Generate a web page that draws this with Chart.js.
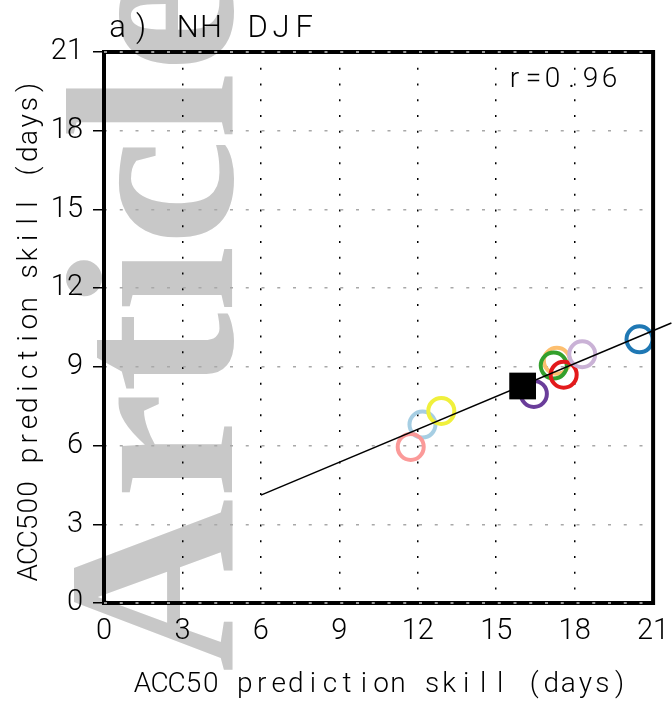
<!DOCTYPE html>
<html>
<head>
<meta charset="utf-8">
<script src="https://cdn.jsdelivr.net/npm/chart.js@4"></script>
<style>
  html, body { margin: 0; padding: 0; background: #fff; }
</style>
</head>
<body>
<canvas id="skillChart" width="672" height="703"></canvas>
<script>
// a) NH DJF - ACC50 vs ACC500 prediction skill (days)
// models listed in draw order, bottom first
const modelNames = ["Model 1", "Model 2", "Model 3", "Model 4", "Model 5", "Model 6", "Model 7", "Model 8", "Model 9"];
const acc50Skill = [12.18, 11.73, 12.90, 16.44, 17.32, 17.20, 17.58, 18.29, 20.48];
const acc500Skill = [6.80, 5.95, 7.32, 7.97, 9.23, 9.05, 8.70, 9.48, 10.05];
const modelColors = ["#a6cee3", "#fb9a99", "#f0f03c", "#6a3d9a", "#fdbf6f", "#33a02c", "#e31a1c", "#cab2d6", "#1f78b4"];

// multi-model mean (black square)
const meanSkill50 = [16.01];
const meanSkill500 = [8.27];

// regression line end points
const fitX = [6.0, 21.7];
const fitY = [4.11, 10.67];

const axisTicks = [0, 3, 6, 9, 12, 15, 18, 21];
const titleText = "a) NH DJF";
const corrText = "r=0.96";
const xTitle = "ACC50 prediction skill (days)";
const yTitle = "ACC500 prediction skill (days)";

const FONT = "Roboto, 'Open Sans', 'DejaVu Sans', sans-serif";

// fixed-pitch text: every character centred in an equal cell
function pitchedText(ctx, text, x, y, width, size, rot) {
    ctx.save();
    ctx.font = "300 " + size + "px " + FONT;
    ctx.translate(x, y);
    if (rot) ctx.rotate(rot);
    ctx.textAlign = "center";
    ctx.textBaseline = "alphabetic";
    ctx.fillStyle = "#000";
    const cell = width / text.length;
    for (let i = 0; i < text.length; i++) {
        ctx.fillText(text[i], cell * (i + 0.5), 0);
    }
    ctx.restore();
}

// white page + grey "Article" stamp behind everything
const stampPlugin = {
    id: "stamp",
    beforeDraw(chart) {
        const ctx = chart.ctx;
        ctx.save();
        ctx.fillStyle = "#fff";
        ctx.fillRect(0, 0, chart.width, chart.height);
        ctx.translate(232, 672);
        ctx.rotate(-Math.PI / 2);
        ctx.fillStyle = "rgb(200,200,200)";
        ctx.font = "bold 240px 'Liberation Serif', serif";
        ctx.textBaseline = "alphabetic";
        ctx.fillText("Article", 0, 0);
        ctx.restore();
    }
};

// heavy frame round the plot, drawn over the marks like the original
const framePlugin = {
    id: "frame",
    afterDatasetsDraw(chart) {
        const {ctx, chartArea: a} = chart;
        ctx.save();
        ctx.strokeStyle = "#000";
        ctx.lineWidth = 4;
        ctx.strokeRect(a.left, a.top, a.right - a.left, a.bottom - a.top);
        // grey grid dashes showing through top and bottom edges
        ctx.strokeStyle = "#c8c8c8";
        ctx.lineWidth = 1.5;
        ctx.setLineDash([3, 12.75]);
        [a.top, a.bottom].forEach(function (y) {
            ctx.beginPath();
            ctx.moveTo(a.left, y);
            ctx.lineTo(a.right, y);
            ctx.stroke();
        });
        ctx.restore();
    },
    afterDraw(chart) {
        const ctx = chart.ctx;
        pitchedText(ctx, titleText, 106, 37, 210, 31, 0);
        pitchedText(ctx, corrText, 505, 87, 114, 28, 0);
        pitchedText(ctx, xTitle, 134, 692, 494, 28, 0);
        pitchedText(ctx, yTitle, 37, 581, 502, 28, -Math.PI / 2);
    }
};

let datasets = [];

datasets.push({
    type: "line",
    label: "fit",
    data: fitX.map((x, i) => ({x: x, y: fitY[i]})),
    borderColor: "#000",
    borderWidth: 1.5,
    pointRadius: 0,
    fill: false,
    showLine: true,
    clip: false,
    order: 0
});

datasets.push({
    type: "scatter",
    label: "Mean",
    data: meanSkill50.map((x, i) => ({x: x, y: meanSkill500[i]})),
    pointStyle: "rect",
    pointRadius: 18.9,
    borderWidth: 0,
    backgroundColor: "#000",
    borderColor: "#000",
    order: 1
});

for (let i = 0; i < modelNames.length; i++) {
    datasets.push({
        type: "scatter",
        label: modelNames[i],
        data: [{x: acc50Skill[i], y: acc500Skill[i]}],
        pointStyle: "circle",
        pointRadius: 13,
        borderWidth: 4,
        borderColor: modelColors[i],
        backgroundColor: "rgba(0,0,0,0)",
        order: 2 + (modelNames.length - 1 - i)
    });
}

const ctx = document.getElementById("skillChart").getContext("2d");
const skillChart = new Chart(ctx, {
    type: "scatter",
    data: {datasets: datasets},
    plugins: [stampPlugin, framePlugin],
    options: {
        responsive: false,
        animation: false,
        devicePixelRatio: 1,
        events: [],
        layout: {padding: {top: 52, right: 16.5, left: 0, bottom: 0}},
        plugins: {
            legend: {display: false},
            tooltip: {enabled: false},
            title: {display: false}
        },
        scales: {
            x: {
                type: "linear",
                position: "bottom",
                min: 0,
                max: 21,
                afterBuildTicks: s => { s.ticks = axisTicks.map(v => ({value: v})); },
                afterFit: s => { s.height = 100; s.paddingLeft = 0; s.paddingRight = 0; },
                ticks: {color: "#000", font: {family: FONT, size: 29, weight: 300}, padding: 11, maxRotation: 0, autoSkip: false},
                grid: {color: "#000", lineWidth: 1.5, drawTicks: false, borderDash: [2, 13.75]},
                border: {display: false, dash: [2, 13.75]},
                title: {display: false}
            },
            y: {
                type: "linear",
                position: "left",
                min: 0,
                max: 21,
                afterBuildTicks: s => { s.ticks = axisTicks.map(v => ({value: v})); },
                afterFit: s => { s.width = 104; s.paddingTop = 0; s.paddingBottom = 0; },
                ticks: {color: "#000", font: {family: FONT, size: 29, weight: 300}, padding: 10, autoSkip: false},
                grid: {
                    color: "#a8a8a8", lineWidth: 1.5, borderDash: [3, 12.75],
                    drawTicks: true, tickLength: 11, tickColor: "#000", tickWidth: 1.5, tickBorderDash: []
                },
                border: {display: false, dash: [3, 12.75]},
                title: {display: false}
            }
        }
    }
});
</script>
</body>
</html>
